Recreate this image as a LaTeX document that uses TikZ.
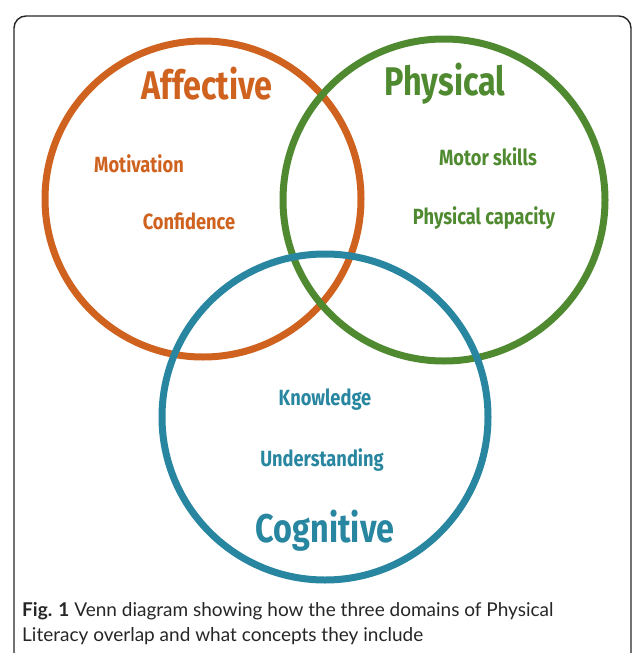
\documentclass[tikz,border=0pt]{standalone}
\usepackage{fontspec}
\setmainfont{Lato}
\newfontfamily\headfont[FakeStretch=0.81]{Fira Sans}
\newfontfamily\smallfont[FakeStretch=0.83]{Fira Sans}
\newfontfamily\capfont{Lato}
\definecolor{affc}{RGB}{207,98,30}
\definecolor{phyc}{RGB}{80,138,48}
\definecolor{cogc}{RGB}{40,134,160}
\tikzset{
  ring/.style={line width=7pt},
  big/.style={font=\headfont\bfseries\fontsize{40}{40}\selectfont, inner sep=0pt},
  small/.style={font=\smallfont\bfseries\fontsize{22}{22}\selectfont, inner sep=0pt},
  captext/.style={anchor=base west, inner sep=0pt, text=black!85,
      font=\capfont\fontsize{19}{19}\selectfont},
  frame/.style={draw=black!85, line width=1.4pt, rounded corners=12pt}
}
\begin{document}
\begin{tikzpicture}[x=1pt,y=-1pt]
\useasboundingbox (0,0) rectangle (633,653);
\draw[frame] (14,653) -- (14,16) -- (631,16) -- (631,653);
\draw[ring, draw=affc] (203,199) circle[radius=158];
\draw[ring, draw=phyc] (444,200) circle[radius=161];
\draw[ring, draw=cogc] (325,417) circle[radius=163];
\node[big, text=affc] (aff) at (207,84) {Affective};
\node[big, text=phyc] (phy) at (445,84) {Physical};
\node[big, text=cogc] (cog) at (325,531) {Cognitive};
\node[small, text=affc] (mot) at (139,164) {Motivation};
\node[small, text=affc] (con) at (189,221) {Confidence};
\node[small, text=phyc] (ms) at (488,157) {Motor skills};
\node[small, text=phyc] (pc) at (484,218) {Physical capacity};
\node[small, text=cogc] (kn) at (325,400) {Knowledge};
\node[small, text=cogc] (un) at (322,460) {Understanding};
\node[captext] (cap1) at (22,616)
  {\textbf{Fig. 1} Venn diagram showing how the three domains of Physical};
\node[captext] (cap2) at (22,641)
  {Literacy overlap and what concepts they include};
\end{tikzpicture}
\end{document}
